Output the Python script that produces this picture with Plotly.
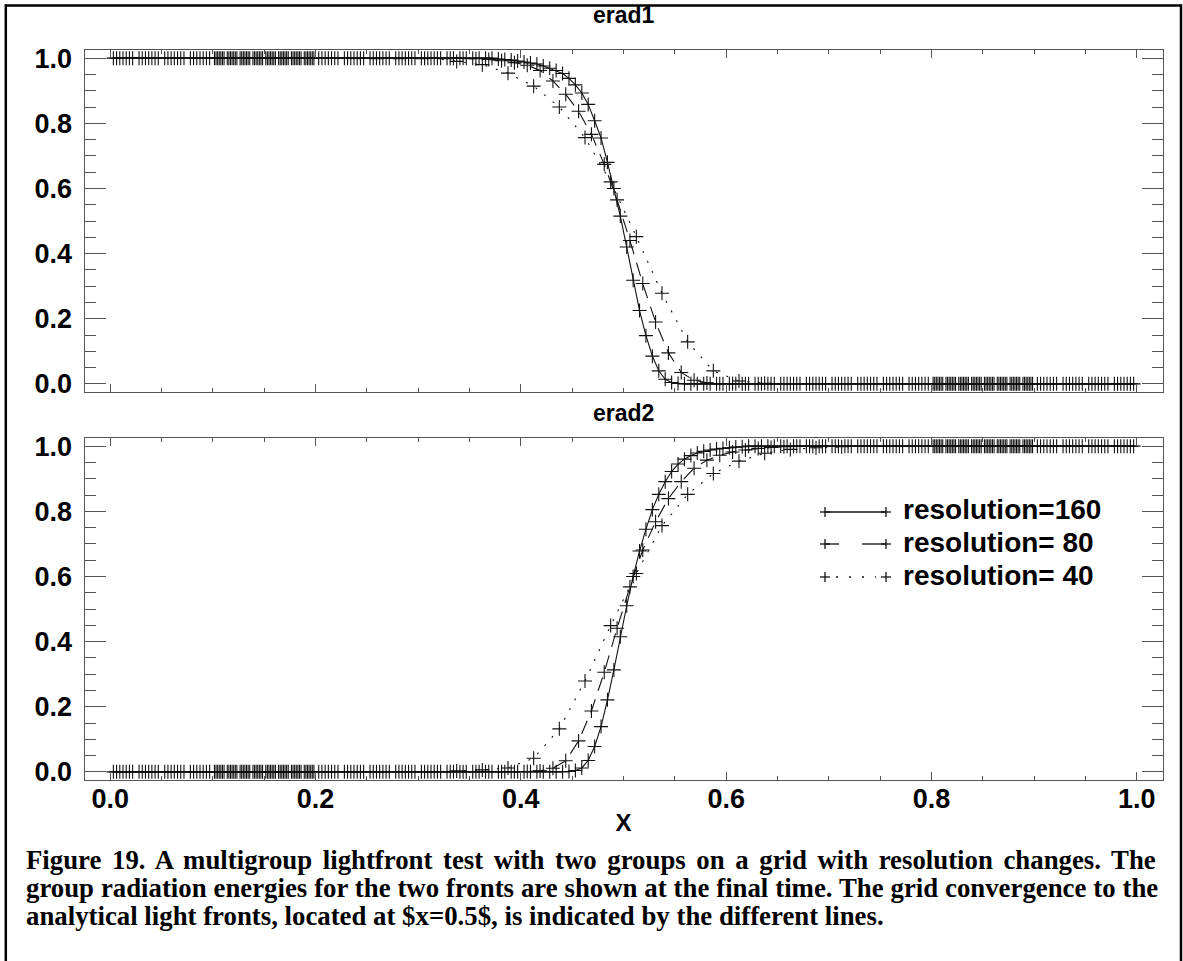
import plotly.graph_objects as go

W, H = 1183, 961

# Cell centres of the three grids (each grid is refined by 2 in 0.1-0.2 and 0.8-0.9)
x40 = [
    0.0125, 0.0375, 0.0625, 0.0875,
    0.10625, 0.11875, 0.13125, 0.14375, 0.15625, 0.16875, 0.18125, 0.19375,
    0.2125, 0.2375, 0.2625, 0.2875, 0.3125, 0.3375, 0.3625, 0.3875,
    0.4125, 0.4375, 0.4625, 0.4875, 0.5125, 0.5375, 0.5625, 0.5875,
    0.6125, 0.6375, 0.6625, 0.6875, 0.7125, 0.7375, 0.7625, 0.7875,
    0.80625, 0.81875, 0.83125, 0.84375, 0.85625, 0.86875, 0.88125, 0.89375,
    0.9125, 0.9375, 0.9625, 0.9875,
]

x80 = [
    0.00625, 0.01875, 0.03125, 0.04375, 0.05625, 0.06875, 0.08125, 0.09375,
    0.103125, 0.109375, 0.115625, 0.121875, 0.128125, 0.134375, 0.140625, 0.146875,
    0.153125, 0.159375, 0.165625, 0.171875, 0.178125, 0.184375, 0.190625, 0.196875,
    0.20625, 0.21875, 0.23125, 0.24375, 0.25625, 0.26875, 0.28125, 0.29375,
    0.30625, 0.31875, 0.33125, 0.34375, 0.35625, 0.36875, 0.38125, 0.39375,
    0.40625, 0.41875, 0.43125, 0.44375, 0.45625, 0.46875, 0.48125, 0.49375,
    0.50625, 0.51875, 0.53125, 0.54375, 0.55625, 0.56875, 0.58125, 0.59375,
    0.60625, 0.61875, 0.63125, 0.64375, 0.65625, 0.66875, 0.68125, 0.69375,
    0.70625, 0.71875, 0.73125, 0.74375, 0.75625, 0.76875, 0.78125, 0.79375,
    0.803125, 0.809375, 0.815625, 0.821875, 0.828125, 0.834375, 0.840625, 0.846875,
    0.853125, 0.859375, 0.865625, 0.871875, 0.878125, 0.884375, 0.890625, 0.896875,
    0.90625, 0.91875, 0.93125, 0.94375, 0.95625, 0.96875, 0.98125, 0.99375,
]

x160 = [
    0.003125, 0.009375, 0.015625, 0.021875, 0.028125, 0.034375, 0.040625, 0.046875,
    0.053125, 0.059375, 0.065625, 0.071875, 0.078125, 0.084375, 0.090625, 0.096875,
    0.1015625, 0.1046875, 0.1078125, 0.1109375, 0.1140625, 0.1171875, 0.1203125, 0.1234375,
    0.1265625, 0.1296875, 0.1328125, 0.1359375, 0.1390625, 0.1421875, 0.1453125, 0.1484375,
    0.1515625, 0.1546875, 0.1578125, 0.1609375, 0.1640625, 0.1671875, 0.1703125, 0.1734375,
    0.1765625, 0.1796875, 0.1828125, 0.1859375, 0.1890625, 0.1921875, 0.1953125, 0.1984375,
    0.203125, 0.209375, 0.215625, 0.221875, 0.228125, 0.234375, 0.240625, 0.246875,
    0.253125, 0.259375, 0.265625, 0.271875, 0.278125, 0.284375, 0.290625, 0.296875,
    0.303125, 0.309375, 0.315625, 0.321875, 0.328125, 0.334375, 0.340625, 0.346875,
    0.353125, 0.359375, 0.365625, 0.371875, 0.378125, 0.384375, 0.390625, 0.396875,
    0.403125, 0.409375, 0.415625, 0.421875, 0.428125, 0.434375, 0.440625, 0.446875,
    0.453125, 0.459375, 0.465625, 0.471875, 0.478125, 0.484375, 0.490625, 0.496875,
    0.503125, 0.509375, 0.515625, 0.521875, 0.528125, 0.534375, 0.540625, 0.546875,
    0.553125, 0.559375, 0.565625, 0.571875, 0.578125, 0.584375, 0.590625, 0.596875,
    0.603125, 0.609375, 0.615625, 0.621875, 0.628125, 0.634375, 0.640625, 0.646875,
    0.653125, 0.659375, 0.665625, 0.671875, 0.678125, 0.684375, 0.690625, 0.696875,
    0.703125, 0.709375, 0.715625, 0.721875, 0.728125, 0.734375, 0.740625, 0.746875,
    0.753125, 0.759375, 0.765625, 0.771875, 0.778125, 0.784375, 0.790625, 0.796875,
    0.8015625, 0.8046875, 0.8078125, 0.8109375, 0.8140625, 0.8171875, 0.8203125, 0.8234375,
    0.8265625, 0.8296875, 0.8328125, 0.8359375, 0.8390625, 0.8421875, 0.8453125, 0.8484375,
    0.8515625, 0.8546875, 0.8578125, 0.8609375, 0.8640625, 0.8671875, 0.8703125, 0.8734375,
    0.8765625, 0.8796875, 0.8828125, 0.8859375, 0.8890625, 0.8921875, 0.8953125, 0.8984375,
    0.903125, 0.909375, 0.915625, 0.921875, 0.928125, 0.934375, 0.940625, 0.946875,
    0.953125, 0.959375, 0.965625, 0.971875, 0.978125, 0.984375, 0.990625, 0.996875,
]

# Group 1 radiation energy (front moving right, falling edge)
erad1_40 = [1.0] * 17 + [
    0.990, 0.980, 0.954, 0.914, 0.850, 0.756, 0.620, 0.452, 0.278, 0.129,
    0.040, 0.009, 0.002,
] + [0.0] * 18

erad1_80 = [1.0] * 36 + [
    0.998, 0.996, 0.992, 0.986, 0.978, 0.962, 0.930, 0.889, 0.837, 0.766,
    0.674, 0.565, 0.440, 0.308, 0.190, 0.095, 0.035, 0.011, 0.003,
] + [0.0] * 41

erad1_160 = [1.0] * 76 + [
    0.997, 0.996, 0.994, 0.991, 0.988, 0.985, 0.982, 0.976, 0.969, 0.962,
    0.953, 0.938, 0.918, 0.893, 0.858, 0.808, 0.755, 0.680, 0.600, 0.515,
    0.420, 0.318, 0.225, 0.148, 0.085, 0.040, 0.014, 0.004, 0.001,
] + [0.0] * 87

# Group 2 radiation energy (rising edge)
erad2_40 = [0.0] * 17 + [
    0.003, 0.006, 0.012, 0.042, 0.132, 0.279, 0.449, 0.609, 0.756, 0.852,
    0.916, 0.954, 0.978, 0.990, 0.995, 0.998,
] + [1.0] * 15

erad2_80 = [0.0] * 40 + [
    0.001, 0.003, 0.011, 0.034, 0.095, 0.187, 0.306, 0.441, 0.568, 0.681,
    0.768, 0.839, 0.891, 0.932, 0.957, 0.972, 0.982, 0.988, 0.993, 0.996,
    0.998,
] + [1.0] * 35

erad2_160 = [0.0] * 87 + [
    0.001, 0.004, 0.012, 0.035, 0.078, 0.139, 0.221, 0.313, 0.415, 0.510,
    0.600, 0.678, 0.745, 0.805, 0.852, 0.891, 0.922, 0.945, 0.960, 0.971,
    0.979, 0.984, 0.988, 0.991, 0.993, 0.995, 0.997, 0.998,
] + [1.0] * 77

panel_titles = ["erad1", "erad2"]
series_labels = ["resolution=160", "resolution= 80", "resolution= 40"]
x_ticks = [0.0, 0.2, 0.4, 0.6, 0.8, 1.0]
y_ticks = [0.0, 0.2, 0.4, 0.6, 0.8, 1.0]

caption_lines = [
    "Figure 19. A multigroup lightfront test with two groups on a grid with resolution changes. The",
    "group radiation energies for the two fronts are shown at the final time. The grid convergence to the",
    "analytical light fronts, located at $x=0.5$, is indicated by the different lines.",
]
# extra word spacing (px) so the first two caption lines are justified
caption_word_spacing = [3.9, 0.2, 0.0]


def px(x):
    return x / W


def py(y):
    return 1 - y / H


INK = "#111111"
AXIS = "#555555"
SANS = "Liberation Sans, Arial, sans-serif"
SERIF = "Liberation Serif, Times New Roman, serif"

styles = [
    (x160, "solid"),
    (x80, "14px,9px"),
    (x40, "2px,9px"),
]

fig = go.Figure()

panels = [
    ("x", "y", [erad1_160, erad1_80, erad1_40]),
    ("x2", "y2", [erad2_160, erad2_80, erad2_40]),
]
for xa, ya, ys in panels:
    for (xs, dash), yv, name in zip(styles, ys, series_labels):
        fig.add_trace(go.Scatter(
            x=xs, y=yv, name=name, xaxis=xa, yaxis=ya,
            mode="lines+markers",
            line=dict(color=INK, width=1.1, dash=dash),
            marker=dict(symbol="cross-thin", size=10,
                        line=dict(color=INK, width=1.1)),
            showlegend=False,
        ))

x_dom = [px(84.5), px(1162.5)]
rng = [-0.025, 1.025]

common_x = dict(
    range=rng, domain=x_dom, showline=True, linecolor=AXIS, linewidth=1,
    mirror="ticks", ticks="inside", ticklen=8, tickcolor=AXIS, tickwidth=1,
    tickvals=x_ticks, tickformat=".1f", showgrid=False, zeroline=False,
    minor=dict(ticks="inside", ticklen=4, dtick=0.05, tick0=0, tickcolor=AXIS),
    tickfont=dict(family=SANS, size=27, color="black", weight="bold"),
    automargin=False,
)
common_y = dict(
    range=rng, showline=True, linecolor=AXIS, linewidth=1,
    mirror="ticks", ticks="inside", ticklen=21, tickcolor=AXIS, tickwidth=1,
    tickvals=y_ticks, tickformat=".1f", showgrid=False, zeroline=False,
    minor=dict(ticks="inside", ticklen=11, dtick=0.05, tick0=0, tickcolor=AXIS),
    tickfont=dict(family=SANS, size=27, color="black", weight="bold"),
    ticklabelstandoff=6, automargin=False,
)

fig.update_layout(
    width=W, height=H,
    margin=dict(l=0, r=0, t=0, b=0),
    paper_bgcolor="white", plot_bgcolor="white",
    xaxis=dict(common_x, anchor="y", showticklabels=False),
    yaxis=dict(common_y, anchor="x", domain=[py(392), py(50)]),
    xaxis2=dict(common_x, anchor="y2", showticklabels=True,
                ticklabelstandoff=-5,
                title=dict(text="X", standoff=0,
                           font=dict(family=SANS, size=24, color="black", weight="bold"))),
    yaxis2=dict(common_y, anchor="x2", domain=[py(780), py(438)]),
)

ann = []
# panel titles
for t, yc in zip(panel_titles, [15, 413]):
    ann.append(dict(text=t, x=px(623.5), y=py(yc), xref="paper", yref="paper",
                    xanchor="center", yanchor="middle", showarrow=False,
                    font=dict(family=SANS, size=23, color="black", weight="bold")))

# legend
shapes = []
leg_rows = [512, 544, 577]
lx0, lx1 = 825, 886
for row, lab in zip(leg_rows, series_labels):
    ann.append(dict(text=lab, x=px(901), y=py(row - 2), xref="paper", yref="paper",
                    xanchor="left", yanchor="middle", showarrow=False,
                    font=dict(family=SANS, size=28, color="black", weight="bold")))
    for cx in (lx0, lx1):
        shapes.append(dict(type="line", xref="paper", yref="paper",
                           x0=px(cx - 5), x1=px(cx + 5), y0=py(row), y1=py(row),
                           line=dict(color=INK, width=1.3)))
        shapes.append(dict(type="line", xref="paper", yref="paper",
                           x0=px(cx), x1=px(cx), y0=py(row - 5), y1=py(row + 5),
                           line=dict(color=INK, width=1.3)))
# sample lines
shapes.append(dict(type="line", xref="paper", yref="paper",
                   x0=px(lx0), x1=px(lx1), y0=py(leg_rows[0]), y1=py(leg_rows[0]),
                   line=dict(color=INK, width=1.3)))
for a, b in [(lx0, 839), (862, lx1)]:
    shapes.append(dict(type="line", xref="paper", yref="paper",
                       x0=px(a), x1=px(b), y0=py(leg_rows[1]), y1=py(leg_rows[1]),
                       line=dict(color=INK, width=1.3)))
shapes.append(dict(type="line", xref="paper", yref="paper",
                   x0=px(836), x1=px(876), y0=py(leg_rows[2]), y1=py(leg_rows[2]),
                   line=dict(color=INK, width=1.3, dash="2px,11px")))

# caption
for line, yc, ws in zip(caption_lines, [860, 888, 916], caption_word_spacing):
    ann.append(dict(text=f'<span style="word-spacing:{ws}px">{line}</span>',
                    x=px(24), y=py(yc), xref="paper", yref="paper",
                    xanchor="left", yanchor="middle", showarrow=False,
                    font=dict(family=SERIF, size=26.8, color="black", weight="bold")))

# outer frame (open at the bottom edge of the page)
frame = [((5.8, 5.5), (1181, 5.5)), ((5.8, 4.3), (5.8, 961)), ((1181, 4.3), (1181, 961))]
for (x0, y0), (x1, y1) in frame:
    shapes.append(dict(type="line", xref="paper", yref="paper",
                       x0=px(x0), y0=py(y0), x1=px(x1), y1=py(y1),
                       line=dict(color="black", width=2.5)))

fig.update_layout(annotations=ann, shapes=shapes)

fig.write_html("out.html")
